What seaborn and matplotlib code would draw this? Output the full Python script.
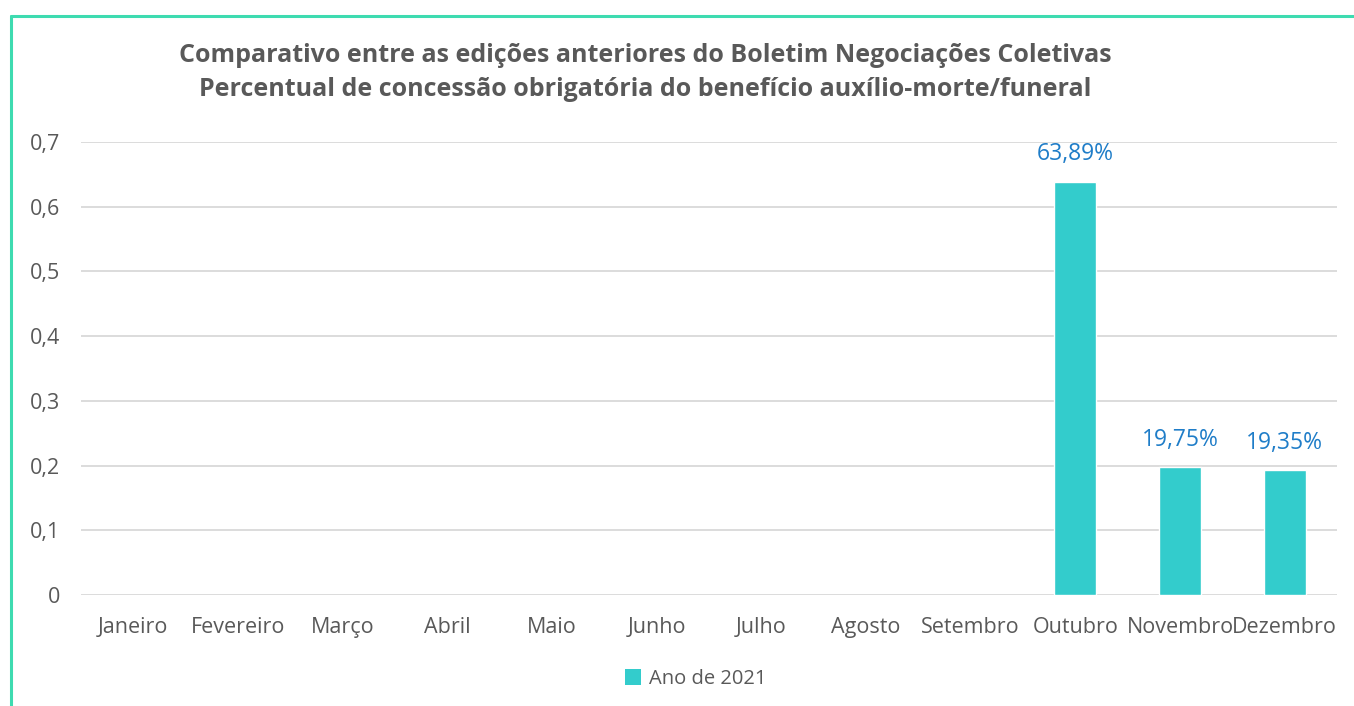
import numpy as np
import pandas as pd
import matplotlib
matplotlib.use("Agg")
import matplotlib.pyplot as plt
import seaborn as sns
from matplotlib.patches import Patch
from matplotlib.lines import Line2D

months = ["Janeiro", "Fevereiro", "Março", "Abril", "Maio", "Junho", "Julho",
          "Agosto", "Setembro", "Outubro", "Novembro", "Dezembro"]
values = [np.nan, np.nan, np.nan, np.nan, np.nan, np.nan, np.nan, np.nan, np.nan,
          0.6389, 0.1975, 0.1935]
labels = ["", "", "", "", "", "", "", "", "", "63,89%", "19,75%", "19,35%"]
yticks = [0, 0.1, 0.2, 0.3, 0.4, 0.5, 0.6, 0.7]
ytick_labels = ["0", "0,1", "0,2", "0,3", "0,4", "0,5", "0,6", "0,7"]
series_name = "Ano de 2021"
title = ("Comparativo entre as edições anteriores do Boletim Negociações Coletivas\n"
         "Percentual de concessão obrigatória do benefício auxílio-morte/funeral")

sns.set_theme(style="white")
plt.rcParams['font.family'] = ['Open Sans', 'DejaVu Sans']

W, H = 1354, 706
fig = plt.figure(figsize=(W / 100, H / 100), dpi=100)
ax = fig.add_axes([81 / W, 1 - 595 / H, (1337 - 81) / W, (595 - 142) / H])

df = pd.DataFrame({"mes": months, "valor": values})
bar_color = "#33CCCC"
sns.barplot(data=df, x="mes", y="valor", order=months, color=bar_color,
            width=0.4, ax=ax, saturation=1)

ax.set_ylim(0, 0.7)
ax.set_xlim(-0.5, 11.5)
ax.set_yticks(yticks)
ax.set_yticklabels(ytick_labels)
ax.yaxis.grid(True, color="#d9d9d9", linewidth=1.3)
ax.set_axisbelow(True)
for s in ax.spines.values():
    s.set_visible(False)
ax.tick_params(axis="both", length=0, labelsize=15.5, colors="#595959")
ax.tick_params(axis="y", pad=15)
ax.tick_params(axis="x", pad=16)
ax.set_xlabel("")
ax.set_ylabel("")

for i, (v, lab) in enumerate(zip(values, labels)):
    if lab:
        ax.annotate(lab, (i, v), xytext=(0, 11), textcoords="offset points",
                    ha="center", va="bottom", fontsize=16.5, color="#1F7DC8")

fig.text(645 / W, 1 - 72.5 / H, title, ha="center", va="center", fontsize=18,
         fontweight="bold", color="#595959", linespacing=1.5)

handle = Patch(facecolor=bar_color, edgecolor="none")
fig.legend([handle], [series_name], loc="center", bbox_to_anchor=(696 / W, 1 - 679 / H),
           frameon=False, fontsize=14.5, labelcolor="#595959", handlelength=0.8,
           handleheight=0.8, handletextpad=0.4)

# teal frame lines
border = "#3EDBB0"
fig.add_artist(Line2D([11 / W, 1], [1 - 16 / H, 1 - 16 / H], color=border, linewidth=2.2,
                      transform=fig.transFigure))
fig.add_artist(Line2D([11 / W, 11 / W], [0, 1 - 16 / H], color=border, linewidth=2.2,
                      transform=fig.transFigure))

fig.savefig("out.png", dpi=100)
